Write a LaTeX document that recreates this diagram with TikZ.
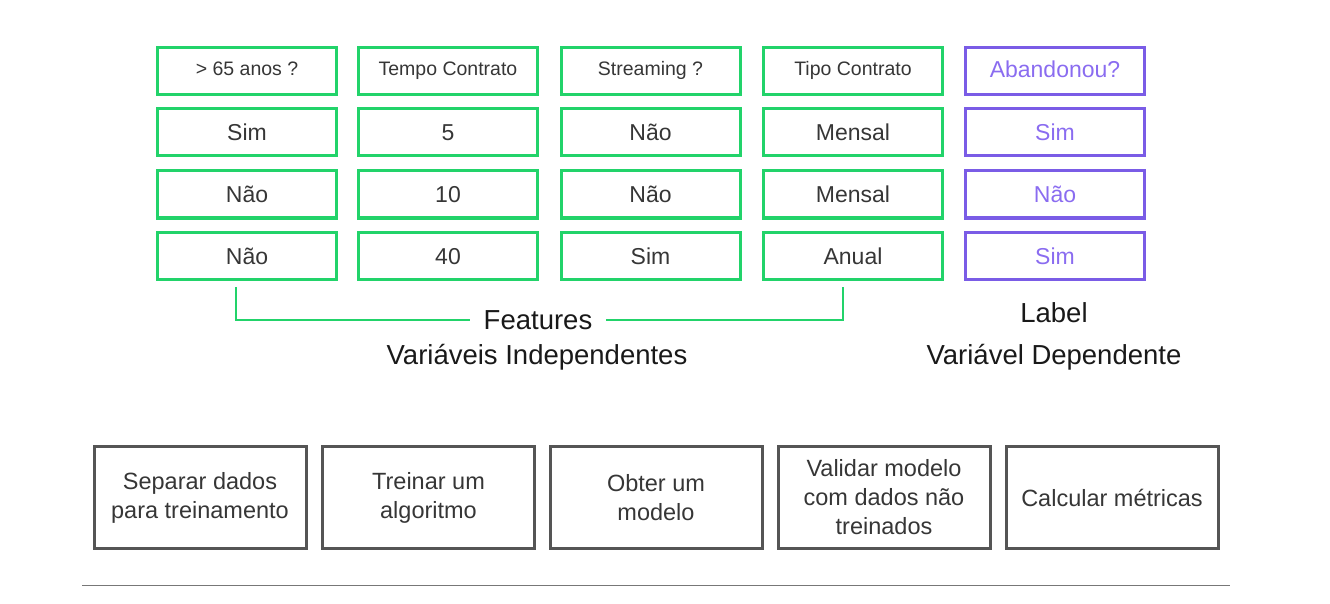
\documentclass[tikz,border=0pt]{standalone}
\usepackage{fontspec}
\setmainfont{Liberation Sans}
\definecolor{fgreen}{HTML}{22D36A}
\definecolor{lpurple}{HTML}{7A5CE6}
\definecolor{ptext}{HTML}{8A6CF0}
\definecolor{txt}{HTML}{363636}
\definecolor{stepgray}{HTML}{555555}
\definecolor{rulegray}{HTML}{777777}
\tikzset{
  cell/.style={draw=fgreen, line width=3pt, minimum width=179pt, minimum height=47pt, inner sep=0pt, text=txt, text height=16.5pt, text depth=0pt, font=\fontsize{23}{27}\selectfont},
  hcell/.style={cell, text height=14pt, text depth=4pt, font=\fontsize{19.5}{23}\selectfont},
  lcell/.style={cell, draw=lpurple, text=ptext},
  lhcell/.style={lcell, text depth=3pt},
  stepbox/.style={draw=stepgray, line width=3pt, minimum width=212pt, minimum height=102pt, inner sep=0pt, text=txt, align=center, font=\fontsize{23.5}{29}\selectfont},
  bigtxt/.style={text=black!90, font=\fontsize{27.5}{32}\selectfont, inner sep=0pt, text height=19.7pt, text depth=0pt},
  bracket/.style={draw=fgreen, line width=1.5pt},
}
\begin{document}
\begin{tikzpicture}[x=1pt,y=-1pt]
\useasboundingbox (0,0) rectangle (1330,604);
% headers
\node[hcell] (h1) at (247,71) {> 65 anos ?};
\node[hcell] (h2) at (448,71) {Tempo Contrato};
\node[hcell] (h3) at (650.5,71) {Streaming ?};
\node[hcell] (h4) at (853,71) {Tipo Contrato};
\node[lhcell] (h5) at (1055,71) {Abandonou?};
% row 1
\node[cell] (a1) at (247,132) {Sim};
\node[cell] (a2) at (448,132) {5};
\node[cell] (a3) at (650.5,132) {Não};
\node[cell] (a4) at (853,132) {Mensal};
\node[lcell] (a5) at (1055,132) {Sim};
% row 2
\node[cell] (b1) at (247,194.5) {Não};
\node[cell] (b2) at (448,194.5) {10};
\node[cell] (b3) at (650.5,194.5) {Não};
\node[cell] (b4) at (853,194.5) {Mensal};
\node[lcell] (b5) at (1055,194.5) {Não};
% row 3
\node[cell] (c1) at (247,256) {Não};
\node[cell] (c2) at (448,256) {40};
\node[cell] (c3) at (650.5,256) {Sim};
\node[cell] (c4) at (853,256) {Anual};
\node[lcell] (c5) at (1055,256) {Sim};
% bracket and labels
\node[bigtxt, inner xsep=14pt] (feat) at (538,320) {Features};
\node[bigtxt] (indep) at (537,355) {Variáveis Independentes};
\node[bigtxt] (lab) at (1054,313) {Label};
\node[bigtxt] (dep) at (1054,355) {Variável Dependente};
\coordinate (bl) at (236,287);
\coordinate (br) at (843,287);
\draw[bracket] (bl) |- (feat.west);
\draw[bracket] (br) |- (feat.east);
% steps
\node[stepbox] (s1) at (200,497.5) {Separar dados\\para treinamento};
\node[stepbox] (s2) at (428.5,497.5) {Treinar um\\algoritmo};
\node[stepbox] (s3) at (656,497.5) {Obter um\\modelo};
\node[stepbox] (s4) at (884,497.5) {Validar modelo\\com dados não\\treinados};
\node[stepbox] (s5) at (1112,497.5) {Calcular métricas};
% bottom rule
\coordinate (r1) at (82,585.5);
\coordinate (r2) at (1230,585.5);
\draw[rulegray, line width=1.5pt] (r1) -- (r2);
\end{tikzpicture}
\end{document}
